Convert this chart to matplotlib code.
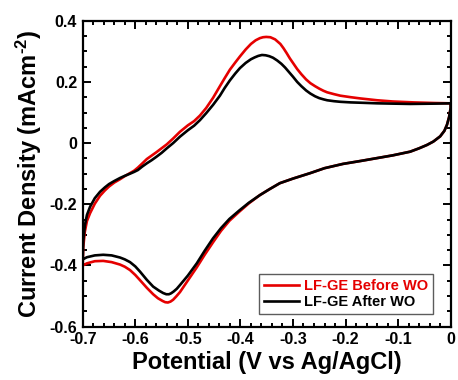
import numpy as np
import matplotlib
matplotlib.use("Agg")
import matplotlib.pyplot as plt
from matplotlib import ticker

# digitized CV loops: start at -0.7 V, anodic sweep to 0 V, cathodic back to -0.7 V
before_v = [-0.700, -0.699, -0.696, -0.692, -0.686, -0.677, -0.667, -0.658, -0.650,
            -0.640, -0.629, -0.620, -0.610, -0.602, -0.595, -0.587, -0.578, -0.569,
            -0.560, -0.550, -0.540, -0.528, -0.515, -0.500, -0.488, -0.477, -0.465,
            -0.452, -0.439, -0.430, -0.420, -0.410, -0.401, -0.390, -0.380, -0.371,
            -0.363, -0.357, -0.351, -0.343, -0.334, -0.324, -0.318, -0.312, -0.306,
            -0.300, -0.292, -0.284, -0.275, -0.267, -0.258, -0.250, -0.242, -0.235,
            -0.222, -0.210, -0.190, -0.172, -0.140, -0.110, -0.070, -0.030, 0.000,
            0.000, -0.003, -0.007, -0.012, -0.020, -0.033, -0.045, -0.060, -0.077,
            -0.110, -0.140, -0.170, -0.205, -0.240, -0.267, -0.300, -0.325, -0.345,
            -0.363, -0.384, -0.402, -0.421, -0.437, -0.452, -0.468, -0.483, -0.500,
            -0.515, -0.522, -0.528, -0.533, -0.538, -0.543, -0.548, -0.557, -0.566,
            -0.578, -0.591, -0.600, -0.610, -0.620, -0.629, -0.645, -0.661, -0.677,
            -0.692, -0.700]
before_i = [-0.400, -0.340, -0.290, -0.255, -0.229, -0.198, -0.172, -0.155, -0.142,
            -0.129, -0.118, -0.108, -0.098, -0.090, -0.080, -0.067, -0.052, -0.041,
            -0.030, -0.017, -0.004, 0.015, 0.037, 0.058, 0.072, 0.090, 0.115,
            0.148, 0.186, 0.212, 0.240, 0.263, 0.283, 0.306, 0.324, 0.336,
            0.343, 0.346, 0.347, 0.346, 0.339, 0.324, 0.310, 0.294, 0.277,
            0.262, 0.242, 0.225, 0.208, 0.196, 0.186, 0.178, 0.171, 0.166,
            0.160, 0.155, 0.150, 0.146, 0.140, 0.136, 0.133, 0.131, 0.130,
            0.115, 0.085, 0.060, 0.040, 0.022, 0.005, -0.006, -0.017, -0.028,
            -0.040, -0.049, -0.058, -0.068, -0.082, -0.098, -0.116, -0.131, -0.151,
            -0.170, -0.197, -0.224, -0.254, -0.287, -0.324, -0.365, -0.406, -0.449,
            -0.487, -0.501, -0.512, -0.518, -0.521, -0.520, -0.516, -0.507, -0.494,
            -0.473, -0.448, -0.431, -0.415, -0.404, -0.397, -0.389, -0.385, -0.386,
            -0.393, -0.400]

after_v = [-0.700, -0.699, -0.696, -0.692, -0.686, -0.677, -0.667, -0.658, -0.650,
           -0.640, -0.629, -0.620, -0.610, -0.602, -0.595, -0.587, -0.578, -0.569,
           -0.560, -0.550, -0.540, -0.528, -0.515, -0.500, -0.488, -0.477, -0.465,
           -0.452, -0.439, -0.430, -0.420, -0.410, -0.401, -0.390, -0.380, -0.373,
           -0.366, -0.359, -0.352, -0.345, -0.338, -0.330, -0.322, -0.315, -0.308,
           -0.300, -0.292, -0.284, -0.275, -0.267, -0.258, -0.250, -0.242, -0.235,
           -0.222, -0.210, -0.190, -0.172, -0.140, -0.110, -0.077, -0.030, 0.000,
           0.000, -0.003, -0.007, -0.012, -0.020, -0.033, -0.045, -0.060, -0.077,
           -0.110, -0.140, -0.170, -0.205, -0.240, -0.267, -0.300, -0.325, -0.345,
           -0.363, -0.384, -0.402, -0.421, -0.437, -0.452, -0.468, -0.483, -0.500,
           -0.515, -0.521, -0.527, -0.532, -0.536, -0.541, -0.547, -0.555, -0.566,
           -0.578, -0.591, -0.600, -0.610, -0.620, -0.629, -0.645, -0.661, -0.677,
           -0.692, -0.700]
after_i = [-0.380, -0.320, -0.270, -0.235, -0.208, -0.180, -0.159, -0.145, -0.134,
           -0.124, -0.114, -0.107, -0.100, -0.094, -0.088, -0.077, -0.066, -0.056,
           -0.045, -0.032, -0.017, 0.000, 0.021, 0.042, 0.057, 0.075, 0.098,
           0.125, 0.155, 0.180, 0.205, 0.227, 0.245, 0.262, 0.274, 0.280,
           0.285, 0.288, 0.287, 0.284, 0.279, 0.270, 0.259, 0.247, 0.233,
           0.217, 0.200, 0.186, 0.172, 0.162, 0.153, 0.147, 0.143, 0.140,
           0.137, 0.135, 0.133, 0.132, 0.130, 0.129, 0.128, 0.129, 0.130,
           0.115, 0.085, 0.060, 0.040, 0.022, 0.005, -0.006, -0.017, -0.028,
           -0.040, -0.049, -0.058, -0.068, -0.082, -0.098, -0.116, -0.131, -0.151,
           -0.170, -0.195, -0.220, -0.248, -0.278, -0.311, -0.352, -0.393, -0.433,
           -0.464, -0.476, -0.485, -0.491, -0.494, -0.494, -0.490, -0.482, -0.469,
           -0.447, -0.420, -0.403, -0.389, -0.380, -0.374, -0.367, -0.365, -0.367,
           -0.373, -0.380]

labels = ["LF-GE Before WO", "LF-GE After WO"]
colors = ["#e50000", "black"]

xticks = [-0.7, -0.6, -0.5, -0.4, -0.3, -0.2, -0.1, 0]
xtick_labels = ["-0.7", "-0.6", "-0.5", "-0.4", "-0.3", "-0.2", "-0.1", "0"]
yticks = [-0.6, -0.4, -0.2, 0, 0.2, 0.4]
ytick_labels = ["-0.6", "-0.4", "-0.2", "0", "0.2", "0.4"]

plt.rcParams["font.family"] = ["Liberation Sans", "DejaVu Sans"]
plt.rcParams["font.weight"] = "bold"
plt.rcParams["mathtext.fontset"] = "custom"
plt.rcParams["mathtext.rm"] = "Liberation Sans:bold"
plt.rcParams["mathtext.default"] = "rm"

fig = plt.figure(figsize=(4.58, 3.80), dpi=100)
ax = fig.add_axes([0.1806, 0.1403, 0.8034, 0.8052])

ax.plot(before_v, before_i, color=colors[0], lw=1.9, label=labels[0])
ax.plot(after_v, after_i, color=colors[1], lw=1.9, label=labels[1])

ax.set_xlim(-0.7, 0)
ax.set_ylim(-0.6, 0.4)

## ticks
ax.set_xticks(xticks)
ax.set_xticklabels(xtick_labels)
ax.set_yticks(yticks)
ax.set_yticklabels(ytick_labels)
ax.xaxis.set_minor_locator(ticker.MultipleLocator(0.02))
ax.yaxis.set_minor_locator(ticker.MultipleLocator(0.05))
ax.tick_params(which="both", direction="in", top=True, right=True, width=1.4)
ax.tick_params(which="major", length=5.5, labelsize=11.5, pad=4)
ax.tick_params(which="minor", length=3)
for s in ax.spines.values():
    s.set_linewidth(1.6)

## labels
ax.set_xlabel("Potential (V vs Ag/AgCl)", fontsize=17, fontweight="bold", labelpad=3)
ax.set_ylabel("Current Density (mAcm$^{\\text{-2}}$)", fontsize=17, fontweight="bold", labelpad=4)

leg = ax.legend(loc="lower right", bbox_to_anchor=(0.952, 0.04), fontsize=10.5,
                frameon=True, fancybox=False, edgecolor="#333333", handlelength=2.4,
                handletextpad=0.3, borderpad=0.35, labelspacing=0.15, borderaxespad=0)
leg.get_frame().set_linewidth(1.0)
for txt, c in zip(leg.get_texts(), colors):
    txt.set_color(c)
    txt.set_fontweight("bold")

fig.savefig("out.png", dpi=100)
